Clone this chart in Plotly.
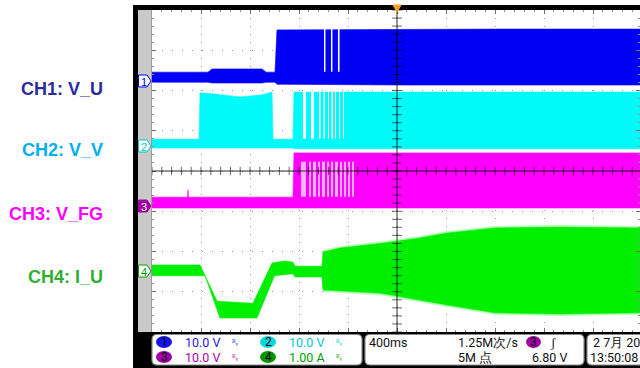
import plotly.graph_objects as go

# ---------------- data (read from the scope screen) ----------------
# time in ms (400 ms/div, trigger at 0); values in V (CH1-3, 10 V/div) and A (CH4, 1 A/div)
ch1_t  = [-2000, -1543, -1510, -1102, -1069, -996, -980, 24, 841, 1990]
ch1_hi = [2.2, 2.2, 3.0, 3.0, 2.2, 2.2, 12.7, 12.9, 12.9, 12.9]
ch1_lo = [-0.3, -0.3, -0.5, -0.5, -0.3, -0.3, -0.8, -1.0, -1.0, -1.0]
ch1_gap_start = [-596, -539, -482]
ch1_gap_end   = [-584, -527, -469]
ch1_gap_lo, ch1_gap_hi = 2.3, 13.5

ch2_t  = [-2000, -1616, -1608, -1486, -1282, -1102, -1020, -1012, -849, -841, 1990]
ch2_hi = [1.7, 1.7, 13.2, 12.9, 12.2, 12.7, 13.4, 1.7, 1.7, 13.4, 13.4]
ch2_lo = [-0.5, -0.5, -0.5, -0.5, -0.5, -0.5, -0.5, -0.5, -0.5, -0.7, -0.7]
ch2_gap_start = [-767, -702, -637, -600, -563, -535, -506, -473, -441]
ch2_gap_end   = [-743, -678, -624, -588, -555, -522, -498, -465, -433]
ch2_gap_lo, ch2_gap_hi = 1.8, 13.8

ch3_t  = [-2000, -1710, -1706, -1702, -849, -841, 1990]
ch3_hi = [2.2, 2.2, 4.0, 2.2, 2.2, 13.2, 13.2]
ch3_lo = [-0.5, -0.5, -0.5, -0.5, -0.5, -0.5, -0.5]
ch3_pale_start = [-784, -718, -686, -645, -612, -571, -539, -506, -465, -433, -400, -367]
ch3_pale_end   = [-743, -702, -661, -629, -588, -555, -522, -482, -449, -416, -384, -351]
ch3_pale_lo, ch3_pale_hi = 2.3, 11.0

ch4_t_hi = [-2000, -1608, -1469, -1176, -1020, -914, -849, -833, -612, -604, -465, -139, 188, 400, 800, 1331, 1990]
ch4_hi   = [0.15, 0.15, -0.75, -0.80, 0.20, 0.25, 0.22, 0.12, 0.12, 0.47, 0.57, 0.68, 0.82, 0.94, 1.07, 1.09, 1.07]
ch4_t_lo = [-2000, -1567, -1445, -1143, -1000, -849, -833, -612, -604, -139, 400, 800, 1331, 1990]
ch4_lo   = [-0.12, -0.12, -1.17, -1.17, -0.12, -0.07, -0.15, -0.15, -0.47, -0.55, -0.84, -1.04, -1.07, -1.04]

ch_names   = ["CH1: V_U", "CH2: V_V", "CH3: V_FG", "CH4: I_U"]
ch_offsets = [2.236, 0.621, -0.870, -2.484]   # divisions
ch_scales  = [10.0, 10.0, 10.0, 1.0]          # units per division
ch_colors  = ["#0000F5", "#00FAFA", "#FF00FF", "#00EE00"]
label_colors = ["#2B2B9E", "#00B0F0", "#FF00FF", "#30B030"]
status_scales = ["10.0 V", "10.0 V", "10.0 V", "1.00 A"]
status_colors = ["#2020F0", "#00CCCC", "#B000B0", "#00A000"]
badge_colors  = ["#1515E8", "#00DADA", "#A000A8", "#009A00"]
timebase = "400ms"
sample_rate = "1.25M次/s"
record_len = "5M 点"
trig_level = "6.80 V"
date_txt = "2 7月 2017"
time_txt = "13:50:08"

# ---------------- geometry helpers ----------------
W, H = 640, 368
def px(x): return x / W
def py(y): return 1 - y / H

MS_PER_PX = 400 / 49
XMIN = (152 - 397) * MS_PER_PX
XMAX = (640 - 397) * MS_PER_PX

def dv(v, i):
    return ch_offsets[i] + v / ch_scales[i]

fig = go.Figure()

def band(i, t_hi, hi, t_lo, lo, color, lw=0.6):
    x = list(t_hi) + list(t_lo[::-1])
    y = [dv(v, i) for v in hi] + [dv(v, i) for v in lo[::-1]]
    fig.add_trace(go.Scatter(x=x, y=y, fill="toself", fillcolor=color, mode="lines",
                             line=dict(width=lw, color=color), hoverinfo="skip", showlegend=False))

def stripes(i, s, e, lo, hi, color):
    x, y = [], []
    for a, b in zip(s, e):
        x += [a, b, b, a, a, None]
        y += [dv(lo, i), dv(lo, i), dv(hi, i), dv(hi, i), dv(lo, i), None]
    fig.add_trace(go.Scatter(x=x, y=y, fill="toself", fillcolor=color, mode="lines",
                             line=dict(width=0, color=color), hoverinfo="skip", showlegend=False))

band(0, ch1_t, ch1_hi, ch1_t, ch1_lo, ch_colors[0])
stripes(0, ch1_gap_start, ch1_gap_end, ch1_gap_lo, ch1_gap_hi, "white")
band(1, ch2_t, ch2_hi, ch2_t, ch2_lo, ch_colors[1])
stripes(1, ch2_gap_start, ch2_gap_end, ch2_gap_lo, ch2_gap_hi, "white")
band(2, ch3_t, ch3_hi, ch3_t, ch3_lo, ch_colors[2])
stripes(2, ch3_pale_start, ch3_pale_end, ch3_pale_lo, ch3_pale_hi, "#FFB0FF")
# faint outer halo of the current oscillation
band(3, ch4_t_hi[8:], [v + 0.05 for v in ch4_hi[8:]], ch4_t_lo[7:], [v - 0.05 for v in ch4_lo[7:]], "#B8FFB8", 0)
band(3, ch4_t_hi, ch4_hi, ch4_t_lo, ch4_lo, ch_colors[3])

# crosshair tick marks
fig.add_trace(go.Scatter(x=[k * 80 for k in range(-25, 25)], y=[0] * 50, mode="markers",
                         marker=dict(symbol="line-ns", size=6, line=dict(width=1, color="rgba(0,0,0,0.6)")),
                         hoverinfo="skip", showlegend=False))
fig.add_trace(go.Scatter(x=[0] * 41, y=[k * 0.2 for k in range(-20, 21)], mode="markers",
                         marker=dict(symbol="line-ew", size=7, line=dict(width=1, color="rgba(0,0,0,0.6)")),
                         hoverinfo="skip", showlegend=False))

shapes = []
shapes.append(dict(type="line", xref="x", yref="y", x0=0, x1=0, y0=-4, y1=4,
                   line=dict(color="rgba(0,0,0,0.55)", width=1.5), layer="above"))
shapes.append(dict(type="line", xref="x", yref="y", x0=XMIN, x1=XMAX, y0=0, y1=0,
                   line=dict(color="rgba(0,0,0,0.55)", width=1.5), layer="above"))

def rect(x0, y0, x1, y1, fill, line_color=None, lw=0):
    shapes.append(dict(type="rect", xref="paper", yref="paper", x0=px(x0), x1=px(x1), y0=py(y1), y1=py(y0),
                       fillcolor=fill, line=dict(color=line_color or fill, width=lw), layer="above"))

def path(pts, fill, line_color, lw=1):
    d = "M " + " L ".join(f"{px(a):.5f},{py(b):.5f}" for a, b in pts) + " Z"
    shapes.append(dict(type="path", xref="paper", yref="paper", path=d, fillcolor=fill,
                       line=dict(color=line_color, width=lw), layer="above"))

def rrect(x0, y0, x1, y1, r, fill, line_color, lw=1.2):
    d = (f"M {px(x0+r)},{py(y0)} L {px(x1-r)},{py(y0)} Q {px(x1)},{py(y0)} {px(x1)},{py(y0+r)} "
         f"L {px(x1)},{py(y1-r)} Q {px(x1)},{py(y1)} {px(x1-r)},{py(y1)} L {px(x0+r)},{py(y1)} "
         f"Q {px(x0)},{py(y1)} {px(x0)},{py(y1-r)} L {px(x0)},{py(y0+r)} Q {px(x0)},{py(y0)} {px(x0+r)},{py(y0)} Z")
    shapes.append(dict(type="path", xref="paper", yref="paper", path=d, fillcolor=fill,
                       line=dict(color=line_color, width=lw), layer="above"))

# frame
rect(133, 5, 640, 10, "black")
rect(133, 5, 138, 368, "black")
rect(138, 10, 151, 332, "#C9C9C9")
rect(151, 10, 152, 332, "#9A9A9A")
rect(133, 332, 640, 368, "black")
rrect(152, 334.5, 362, 365, 5, "white", "#8A8A8A")
rrect(365, 334.5, 584, 365, 5, "white", "#8A8A8A")
rrect(587, 334.5, 660, 365, 5, "white", "#8A8A8A")
path([(393, 5), (401, 5), (397, 12)], "#F5A020", "#F5A020")

annotations = []
def txt(x, y, s, color, size=12, anchor="left", family="Roboto", bold=False):
    if bold:
        s = "<b>" + s + "</b>"
    annotations.append(dict(x=px(x), y=py(y), xref="paper", yref="paper", text=s, showarrow=False,
                            xanchor=anchor, yanchor="middle", font=dict(color=color, size=size, family=family)))

marker_y = [81, 146, 206, 271]
marker_fill = ["white", "white", "#A000A0", "white"]
marker_txt = [ch_colors[0], "#00C8C8", "white", "#00A000"]
marker_line = [ch_colors[0], "#00C8C8", "#A000A0", "#00A000"]
for i, yy in enumerate(marker_y):
    path([(138.5, yy - 6), (147, yy - 6), (151, yy), (147, yy + 6), (138.5, yy + 6)],
         marker_fill[i], marker_line[i], 1)
    txt(143.5, yy + 0.5, str(i + 1), marker_txt[i], 11, "center", "Liberation Sans")

for i, yy in enumerate([89, 150, 214, 277]):
    txt(105, yy, ch_names[i], label_colors[i], 18, "right", "Liberation Sans", bold=True)

badge_pos = [(164, 342), (268, 342), (164, 357), (268, 357)]
for i, (bx, by) in enumerate(badge_pos):
    shapes.append(dict(type="circle", xref="paper", yref="paper", x0=px(bx - 8), x1=px(bx + 8),
                       y0=py(by + 6), y1=py(by - 6), fillcolor=badge_colors[i],
                       line=dict(color=badge_colors[i], width=0), layer="above"))
    txt(bx, by, str(i + 1), "black", 12, "center")
    txt(bx + 19, by, status_scales[i], status_colors[i], 12.5, "left")
    txt(bx + 66, by, "ᴮᵥ", status_colors[i], 9, "left")

txt(367, 342, timebase, "#111111", 12.5)
txt(456, 342, sample_rate, "#111111", 12.5)
txt(456, 357, record_len, "#111111", 12.5)
shapes.append(dict(type="circle", xref="paper", yref="paper", x0=px(526), x1=px(541),
                   y0=py(348), y1=py(336), fillcolor="#A000A8", line=dict(width=0), layer="above"))
txt(533.5, 342, "3", "black", 12, "center")
txt(553, 342, "ʃ", "#111111", 13, "center")
txt(530, 357, trig_level, "#111111", 12.5)
txt(591, 342, date_txt, "#111111", 12.5)
txt(588, 357, time_txt, "#111111", 12.5)

fig.update_layout(
    width=W, height=H, margin=dict(l=0, r=0, t=0, b=0),
    paper_bgcolor="white", plot_bgcolor="white",
    showlegend=False, shapes=shapes, annotations=annotations,
    xaxis=dict(domain=[px(152), 1], range=[XMIN, XMAX], showticklabels=False,
               tick0=0, dtick=400, ticks="inside", ticklen=4, tickcolor="#707070",
               minor=dict(dtick=80, ticks="inside", ticklen=2, tickcolor="#909090", showgrid=False),
               showgrid=True, gridcolor="#9A9A9A", griddash="1px,7px", gridwidth=1,
               showline=True, linecolor="#9A9A9A", mirror="ticks", zeroline=False, fixedrange=True),
    yaxis=dict(domain=[py(332), py(10)], range=[-4, 4], showticklabels=False,
               tick0=0, dtick=1, ticks="inside", ticklen=4, tickcolor="#707070",
               minor=dict(dtick=0.2, ticks="inside", ticklen=2, tickcolor="#909090", showgrid=False),
               showgrid=True, gridcolor="#9A9A9A", griddash="1px,9px", gridwidth=1,
               showline=True, linecolor="#9A9A9A", mirror="ticks", zeroline=False, fixedrange=True),
)

fig.write_html("out.html")
